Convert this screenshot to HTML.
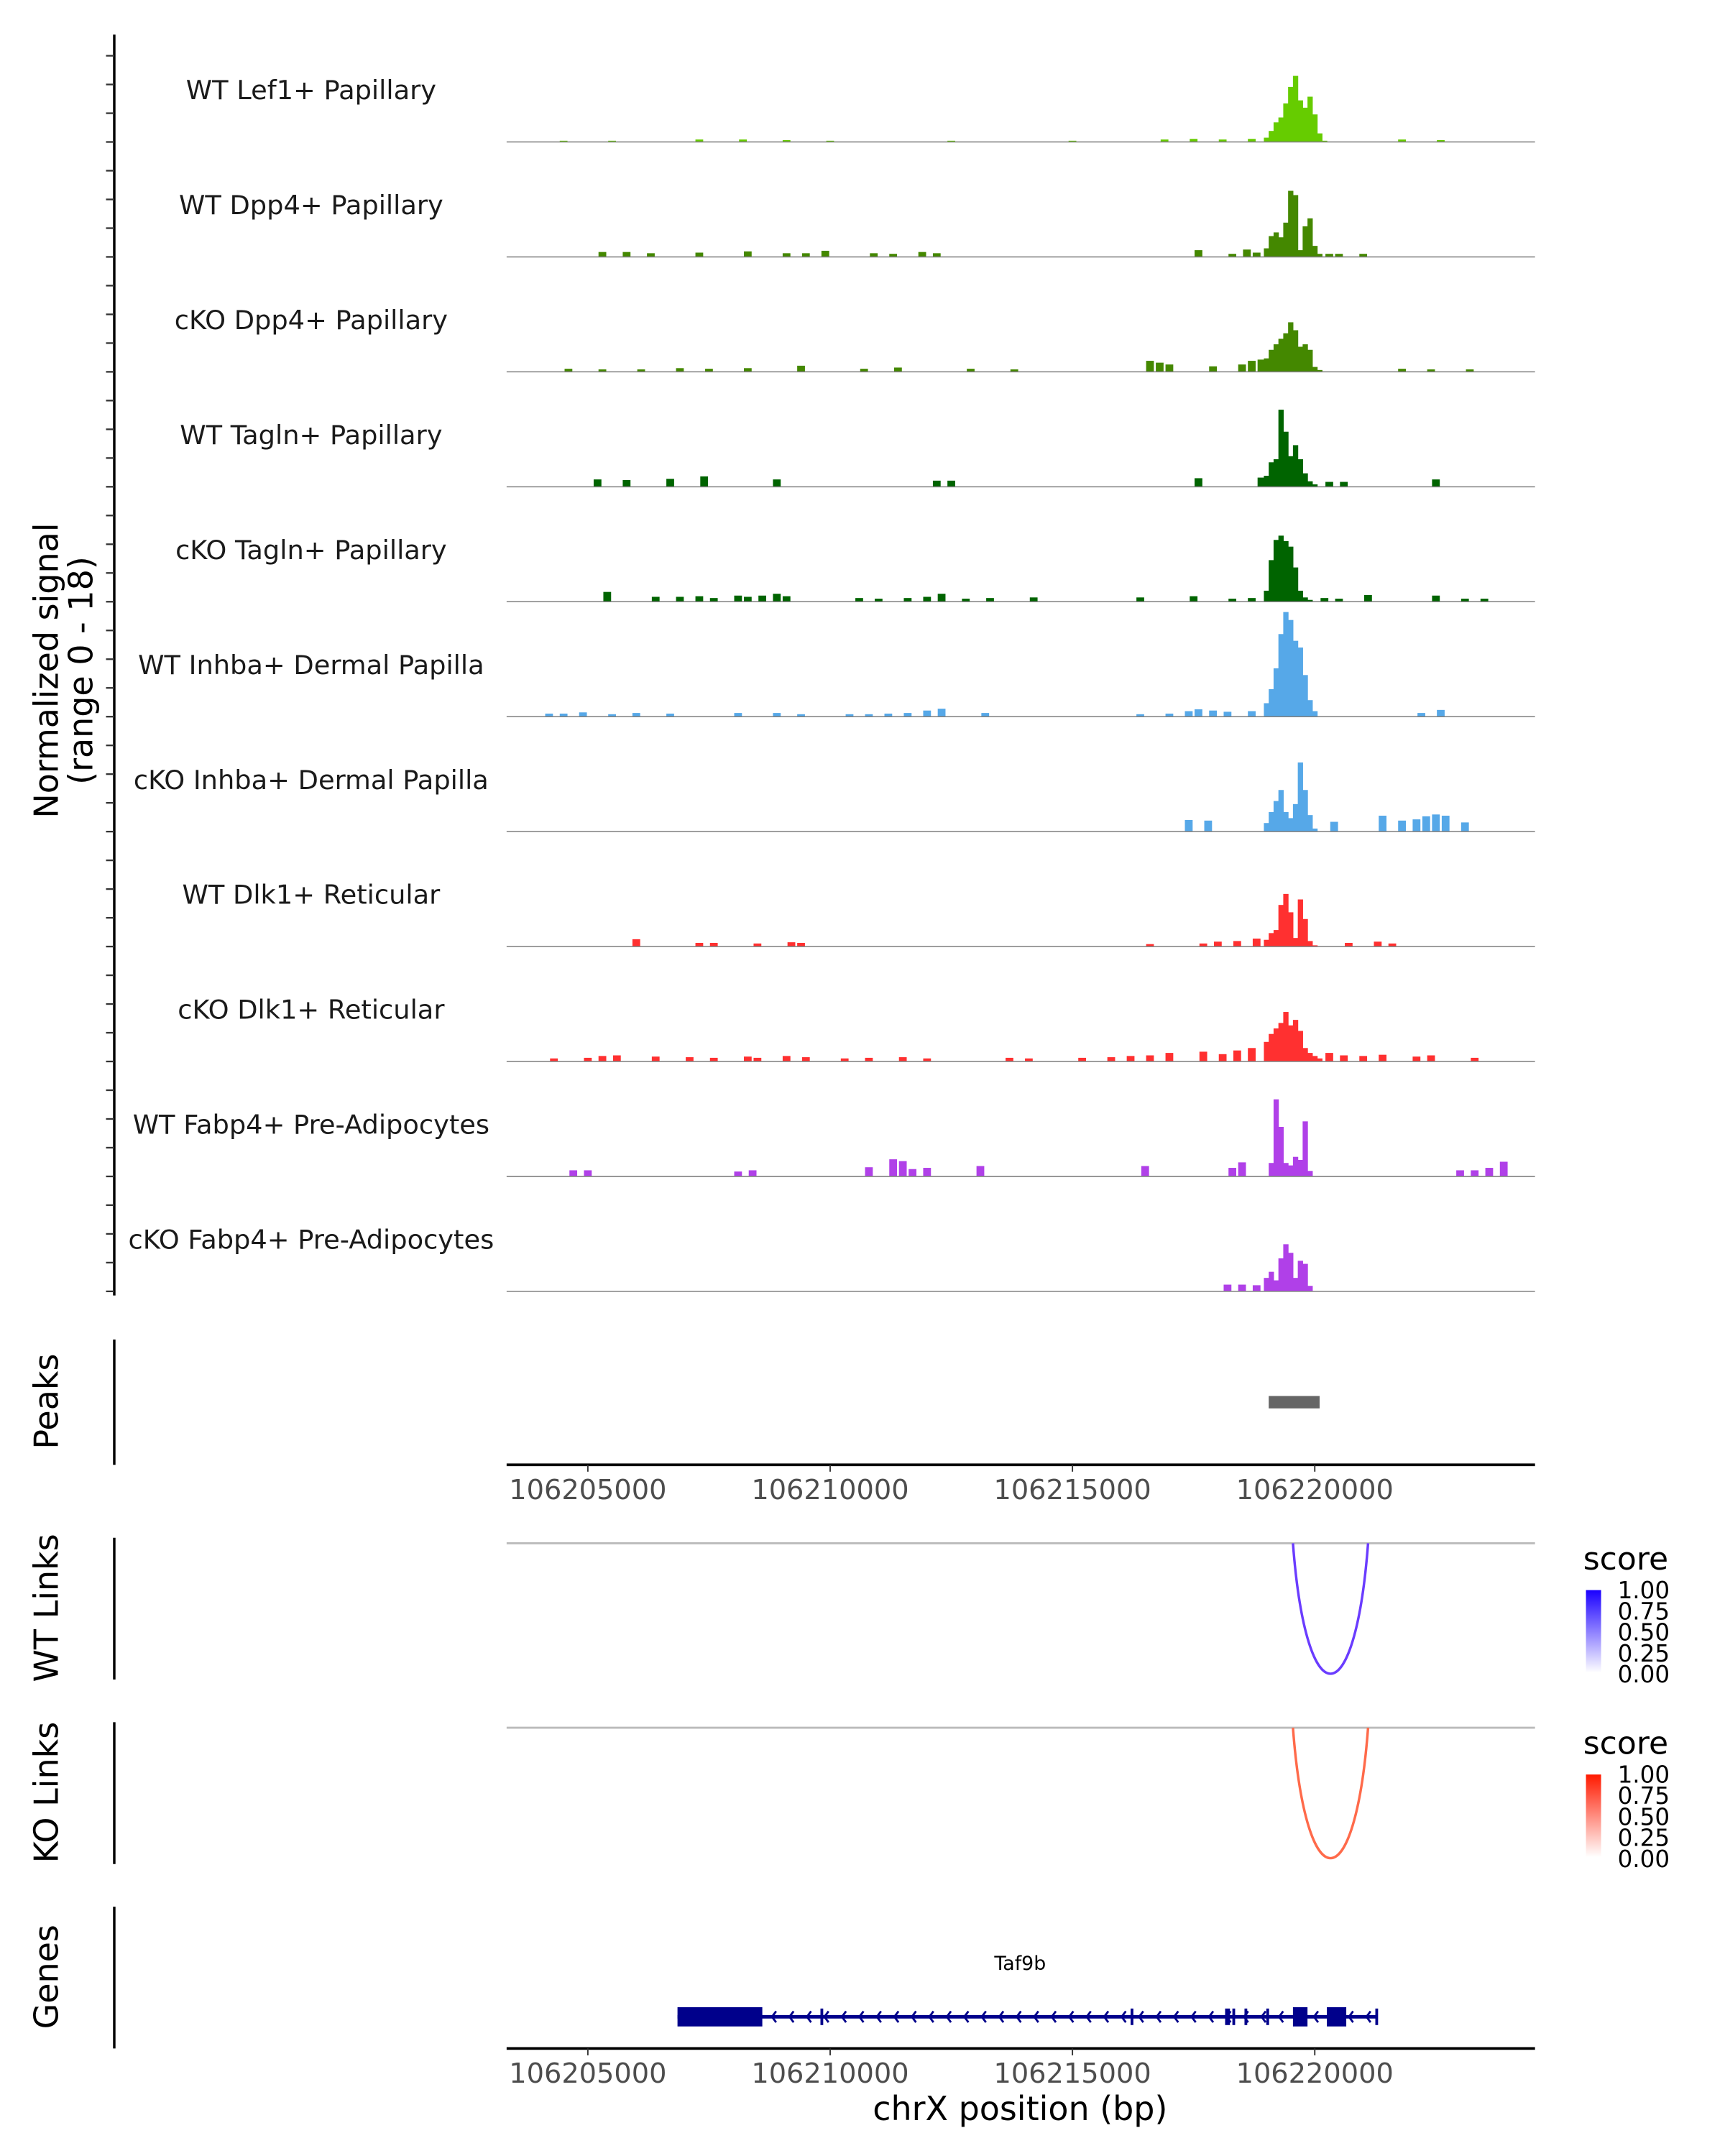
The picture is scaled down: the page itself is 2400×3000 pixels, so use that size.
<!DOCTYPE html>
<html><head><meta charset="utf-8">
<style>
html,body{margin:0;padding:0;background:#fff;}
svg{display:block;font-family:"DejaVu Sans","Liberation Sans",sans-serif;}
</style></head>
<body>
<svg id="chart" width="2400" height="3000" viewBox="0 0 1253 1566" xmlns="http://www.w3.org/2000/svg">
<defs>
<linearGradient id="gblue" x1="0" y1="1" x2="0" y2="0"><stop offset="0" stop-color="#ffffff"/><stop offset="1" stop-color="#1a00ff"/></linearGradient>
<linearGradient id="gred" x1="0" y1="1" x2="0" y2="0"><stop offset="0" stop-color="#ffffff"/><stop offset="1" stop-color="#ff1a00"/></linearGradient>
</defs>
<g id="tracks"></g>
<g id="static"></g>
</svg>
<script>
// ---- data (positions in kb offset from chrX:106,000,000; values in normalized signal 0-18) ----
var trackNames = ["WT Lef1+ Papillary","WT Dpp4+ Papillary","cKO Dpp4+ Papillary","WT Tagln+ Papillary","cKO Tagln+ Papillary","WT Inhba+ Dermal Papilla","cKO Inhba+ Dermal Papilla","WT Dlk1+ Reticular","cKO Dlk1+ Reticular","WT Fabp4+ Pre-Adipocytes","cKO Fabp4+ Pre-Adipocytes"];
var trackColors = ["#66cc00","#448800","#448800","#006400","#006400","#56a8e8","#56a8e8","#ff3030","#ff3030","#b040e8","#b040e8"];
var mainBins = [219.0,219.1,219.2,219.3,219.4,219.5,219.6,219.7,219.8,219.9,220.0,220.1,220.2];
var mainVals = [
 [0.7,1.8,3.2,4,6.3,9,10.8,6.8,5.6,7.4,4.5,1.4,0.2],
 [1.4,3.4,4,3.2,5.6,10.8,10.1,1.1,5,6.3,1.8,0.5,0],
 [2.2,3.6,4.5,5.4,6.3,8.1,6.8,4.1,4.5,3.6,0.8,0.3,0],
 [1.8,4,4.5,12.6,9,5,6.8,4.5,2.2,0.9,0.4,0,0],
 [1.8,6.8,10.1,10.8,9.9,9,5.6,1.8,0.7,0.3,0,0,0],
 [2.2,4.5,7.9,13.5,17.1,15.8,12.4,11.3,6.8,2.7,0.9,0,0],
 [1.4,3.2,5,6.8,3.2,2.2,4.5,11.3,6.8,2.7,0.5,0,0],
 [1.1,2.2,2.7,6.8,8.6,5.6,1.4,7.7,4.5,0.9,0.2,0,0],
 [3.2,4.5,5.4,6.3,8.1,5.9,6.8,5,2.2,1.4,0.9,0.5,0],
 [0,2.2,12.6,8.1,2.2,1.8,3.2,2.7,9,0.9,0,0,0],
 [2.2,3.2,1.8,5.4,7.7,6.3,2.2,5,4.5,0.9,0,0,0]
];
var smallPos = [
 [204.5,205.5,207.3,208.2,209.1,210,212.5,215,216.9,217.5,218.1,218.7,221.8,222.6],
 [205.3,205.8,206.3,207.3,208.3,209.1,209.5,209.9,210.9,211.3,211.9,212.2,217.6,218.3,218.6,218.8,220.3,220.5,221.0],
 [204.6,205.3,206.1,206.9,207.5,208.3,209.4,210.7,211.4,212.9,213.8,216.6,216.8,217.0,217.9,218.5,218.7,218.9,221.8,222.4,223.2],
 [205.2,205.8,206.7,207.4,208.9,212.2,212.5,217.6,218.9,220.3,220.6,222.5],
 [205.4,206.4,206.9,207.3,207.6,208.1,208.3,208.6,208.9,209.1,210.6,211.0,211.6,212.0,212.3,212.8,213.3,214.2,216.4,217.5,218.3,218.7,220.2,220.5,221.1,222.5,223.1,223.5],
 [204.2,204.5,204.9,205.5,206.0,206.7,208.1,208.9,209.4,210.4,210.8,211.2,211.6,212.0,212.3,213.2,216.4,217.0,217.4,217.6,217.9,218.2,218.7,222.2,222.6],
 [217.4,217.8,220.4,221.4,221.8,222.1,222.3,222.5,222.7,223.1],
 [206.0,207.3,207.6,208.5,209.2,209.4,216.6,217.7,218.0,218.4,218.8,220.7,221.3,221.6],
 [204.3,205.0,205.3,205.6,206.4,207.1,207.6,208.3,208.5,209.1,209.5,210.3,210.8,211.5,212.0,213.7,214.1,215.2,215.8,216.2,216.6,217.0,217.7,218.1,218.4,218.7,220.3,220.6,221.0,221.4,222.1,222.4,223.3],
 [204.7,205.0,208.1,208.4,210.8,211.3,211.5,211.7,212.0,213.1,216.5,218.3,218.5,223.0,223.3,223.6,223.9],
 [218.2,218.5,218.8]
];
var smallVals = [
 [0.2,0.2,0.4,0.4,0.3,0.2,0.2,0.2,0.4,0.5,0.4,0.5,0.4,0.3],
 [0.8,0.8,0.6,0.7,0.9,0.6,0.6,1,0.6,0.5,0.8,0.6,1.1,0.5,1.2,0.7,0.5,0.5,0.5],
 [0.5,0.4,0.4,0.6,0.5,0.6,1,0.5,0.7,0.5,0.4,1.8,1.5,1.2,0.9,1.2,1.8,2,0.5,0.4,0.4],
 [1.2,1.1,1.3,1.7,1.2,1,1,1.4,1.5,0.8,0.8,1.2],
 [1.6,0.8,0.8,0.9,0.6,1,0.8,1,1.3,0.9,0.6,0.5,0.6,0.8,1.3,0.5,0.6,0.7,0.7,0.9,0.5,0.6,0.6,0.5,1.1,1,0.5,0.5],
 [0.5,0.5,0.7,0.4,0.6,0.5,0.6,0.6,0.4,0.4,0.4,0.5,0.6,1,1.3,0.6,0.4,0.5,0.9,1.2,1,0.8,0.9,0.6,1.1],
 [1.9,1.8,1.6,2.6,1.8,2,2.5,2.8,2.6,1.5],
 [1.2,0.6,0.6,0.5,0.7,0.6,0.4,0.5,0.8,0.9,1.3,0.6,0.8,0.5],
 [0.5,0.6,0.9,1,0.8,0.7,0.6,0.8,0.6,0.9,0.7,0.5,0.6,0.7,0.5,0.6,0.5,0.6,0.7,0.9,1,1.4,1.6,1.2,1.8,2.2,1.4,1,0.9,1.1,0.8,1,0.6],
 [1,1,0.8,1,1.5,2.8,2.5,1.2,1.4,1.7,1.7,1.4,2.3,1,1,1.4,2.4],
 [1.1,1.1,1]
];
var xTicks = [106205000,106210000,106215000,106220000];
var peakStart = 106219050, peakEnd = 106220100;
var linkStart = 106219550, linkEnd = 106221100;
var geneStart = 106206850, geneEnd = 106221300;
var geneExons = [[106206850,106208600],[106209800,106209850],[106216200,106216250],[106218150,106218250],[106218300,106218350],[106218550,106218600],[106219000,106219050],[106219550,106219850],[106220250,106220650],[106221250,106221300]];
var legendTicks = ["1.00","0.75","0.50","0.25","0.00"];

// ---- scales ----
var X0=368, X1=1115, BP0=106203324, BP1=106224545;
function xs(bp){return X0+(bp-BP0)/(BP1-BP0)*(X1-X0);}
function xkb(kb){return xs(106000000+kb*1000);}
var TRACK_TOP=20, TRACK_H=83.5, YMAX=18, PLOT_H=80;
function baseY(i){return TRACK_TOP+TRACK_H*(i+1)-0.5;}
function hs(v){return Number(v)/YMAX*PLOT_H;}

var NS="http://www.w3.org/2000/svg";
function mk(tag,attrs,parent){var e=document.createElementNS(NS,tag);for(var k in attrs)e.setAttribute(k,String(attrs[k]));parent.appendChild(e);return e;}
var trackLayer=document.getElementById('tracks');
var stat=document.getElementById('static');

// coverage tracks
for(var i=0;i<trackNames.length;i++){
  var g=mk('g',{},trackLayer);
  
  
  var by=baseY(i);
  var col=trackColors[i];
  var lbl=mk('text',{x:226,y:by-31,'font-size':19.2,'text-anchor':'middle',fill:'#1a1a1a'},g);
  lbl.textContent=trackNames[i];
  
  
  var bw=(xkb(0.1)-xkb(0));
  for(var j=0;j<mainBins.length;j++){
    var h=hs(mainVals[i][j]);
    var r=mk('rect',{x:xkb(mainBins[j])-bw/2,y:by-h,width:bw+0.3,height:h,fill:col},g);
    
    
  }
  for(var j2=0;j2<smallPos[i].length;j2++){
    var h2=hs(smallVals[i][j2]);
    var r2=mk('rect',{x:xkb(smallPos[i][j2])-bw*0.8,y:by-h2,width:bw*1.6,height:h2,fill:col},g);
    
    
  }
  var bl=mk('line',{x1:X0,x2:X1,y1:by,y2:by,stroke:'#7f7f7f','stroke-width':0.8},g);
  
  
}

// left axis for tracks
var la=mk('line',{x1:83,x2:83,y1:25,y2:941,stroke:'#000','stroke-width':1.8},stat);


for(var y=baseY(0)-TRACK_H*0.75;y<=941;y+=TRACK_H/4){
  var t=mk('line',{x1:77,x2:83,y1:y,y2:y,stroke:'#333','stroke-width':1.2},stat);
  
  
}
var yt=mk('text',{transform:'translate(42,487) rotate(-90)','text-anchor':'middle','font-size':24,fill:'#000'},stat);
yt.textContent='Normalized signal';


var yt2=mk('text',{transform:'translate(67,487) rotate(-90)','text-anchor':'middle','font-size':24,fill:'#000'},stat);
yt2.textContent='(range 0 - 18)';



function sideLabel(txt,cy,y1,y2,name){
  var t=mk('text',{transform:'translate(42,'+cy+') rotate(-90)','text-anchor':'middle','font-size':24,fill:'#000'},stat);
  t.textContent=txt;
  
  
  var l=mk('line',{x1:83,x2:83,y1:y1,y2:y2,stroke:'#000','stroke-width':1.8},stat);
  
  
}
sideLabel('Peaks',1018,973,1064,'peaks');
sideLabel('WT Links',1168,1117,1220,'wt-links');
sideLabel('KO Links',1302,1251,1354,'ko-links');
sideLabel('Genes',1436,1385,1488,'genes');

// peaks
var pk=mk('rect',{x:xs(peakStart),y:1014,width:xs(peakEnd)-xs(peakStart),height:9,fill:'#666'},stat);



function xAxis(y,name){
  var l=mk('line',{x1:X0,x2:X1,y1:y,y2:y,stroke:'#000','stroke-width':2},stat);
  
  
  xTicks.forEach(function(v){
    var x=xs(v);
    var t=mk('line',{x1:x,x2:x,y1:y,y2:y+5,stroke:'#333','stroke-width':1},stat);
    
    
    var tl=mk('text',{x:x,y:y+25,'text-anchor':'middle','font-size':20,fill:'#4d4d4d'},stat);
    tl.textContent=String(v);
    
    
  });
}
xAxis(1064,'peaks-x-axis');
xAxis(1488,'genes-x-axis');
var xt=mk('text',{x:741,y:1540,'text-anchor':'middle','font-size':24,fill:'#000'},stat);
xt.textContent='chrX position (bp)';



// links
function links(base,color,grad,name){
  var b=mk('line',{x1:X0,x2:X1,y1:base,y2:base,stroke:'#bbb','stroke-width':1.5},stat);
  
  
  var a=xs(linkStart), c=xs(linkEnd), m=(a+c)/2, depth=95;
  var arc=mk('path',{d:'M'+a+','+base+' C'+(a+(m-a)*0.35)+','+(base+depth*1.33)+' '+(c-(c-m)*0.35)+','+(base+depth*1.33)+' '+c+','+base,fill:'none',stroke:color,'stroke-width':1.8},stat);
  
  
  var lg=mk('g',{},stat);
  
  
  var ti=mk('text',{x:1150,y:base+19,'font-size':23,fill:'#000'},lg);
  ti.textContent='score';
  mk('rect',{x:1152,y:base+34,width:11,height:60,fill:'url(#'+grad+')'},lg);
  legendTicks.forEach(function(tk,k){
    var tx=mk('text',{x:1175,y:base+40+k*15.3,'font-size':17,fill:'#000'},lg);
    tx.textContent=tk;
  });
}
links(1121,'#6a3cff','gblue','wt-links');
links(1255,'#ff6a4a','gred','ko-links');

// gene
var gg=mk('g',{},stat);


var gn=mk('text',{x:741,y:1431,'text-anchor':'middle','font-size':14,fill:'#000'},gg);
gn.textContent='Taf9b';
mk('line',{x1:xs(geneStart),x2:xs(geneEnd),y1:1465,y2:1465,stroke:'#00008b','stroke-width':2.5},gg);
for(var ax=xs(106208800);ax<xs(geneEnd)-4;ax+=12.7){
  mk('path',{d:'M'+(ax+3)+',1461 L'+ax+',1465 L'+(ax+3)+',1469',fill:'none',stroke:'#00008b','stroke-width':1.5},gg);
}
geneExons.forEach(function(e){
  var x1=xs(e[0]), x2=xs(e[1]);
  var big=(x2-x1)>4;
  mk('rect',{x:x1,y:big?1458:1459,width:Math.max(x2-x1,2),height:big?14:12,fill:'#00008b'},gg);
});
</script>
</body></html>
